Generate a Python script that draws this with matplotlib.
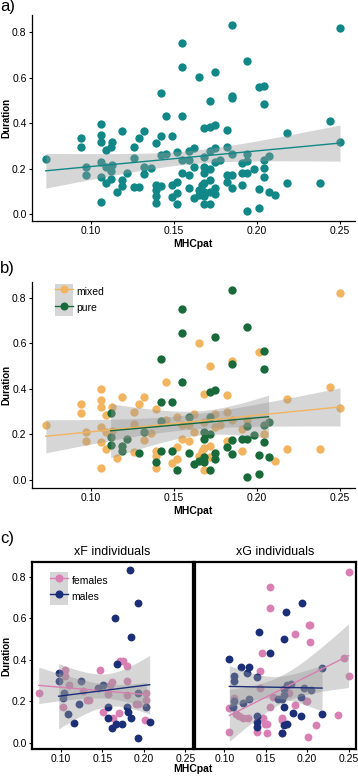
import numpy as np
import matplotlib
matplotlib.use("Agg")
import matplotlib.pyplot as plt
from matplotlib.lines import Line2D
from matplotlib.patches import Patch
from matplotlib.legend_handler import HandlerTuple

plt.rcParams["font.family"] = ["Liberation Sans", "DejaVu Sans"]

# ---------------------------------------------------------------------------
# Data
# ---------------------------------------------------------------------------
# panel b: mixed vs pure (panel a = all of them)
mixed_x = [0.073, 0.094, 0.094, 0.106, 0.106, 0.106, 0.097, 0.097, 0.106, 0.106,
           0.106, 0.109, 0.113, 0.109, 0.113, 0.109, 0.116, 0.119, 0.126, 0.126,
           0.126, 0.129, 0.132, 0.132, 0.136, 0.139, 0.139, 0.139, 0.139, 0.145,
           0.145, 0.149, 0.152, 0.152, 0.152, 0.155, 0.155, 0.159, 0.159, 0.162,
           0.162, 0.165, 0.165, 0.167, 0.168, 0.168, 0.168, 0.168, 0.172, 0.172,
           0.172, 0.175, 0.175, 0.178, 0.182, 0.182, 0.182, 0.185, 0.185, 0.191,
           0.191, 0.194, 0.201, 0.204, 0.211, 0.218, 0.218, 0.238, 0.244, 0.250,
           0.250]
mixed_y = [0.242, 0.334, 0.295, 0.397, 0.349, 0.319, 0.210, 0.173, 0.232, 0.166,
           0.053, 0.283, 0.319, 0.210, 0.217, 0.136, 0.097, 0.366, 0.297, 0.246,
           0.122, 0.334, 0.366, 0.177, 0.205, 0.312, 0.129, 0.107, 0.051, 0.432,
           0.264, 0.075, 0.144, 0.092, 0.275, 0.239, 0.180, 0.239, 0.173, 0.290,
           0.210, 0.603, 0.107, 0.129, 0.378, 0.253, 0.139, 0.045, 0.498, 0.151,
           0.100, 0.290, 0.231, 0.239, 0.371, 0.297, 0.173, 0.520, 0.265, 0.224,
           0.129, 0.265, 0.561, 0.202, 0.085, 0.356, 0.136, 0.136, 0.410, 0.820,
           0.316]
pure_x = [0.112, 0.112, 0.112, 0.119, 0.119, 0.122, 0.129, 0.132, 0.139, 0.142,
          0.142, 0.142, 0.142, 0.149, 0.149, 0.152, 0.155, 0.155, 0.155, 0.159,
          0.159, 0.162, 0.165, 0.168, 0.168, 0.168, 0.168, 0.172, 0.172, 0.172,
          0.172, 0.175, 0.175, 0.175, 0.175, 0.182, 0.185, 0.185, 0.185, 0.185,
          0.191, 0.194, 0.194, 0.194, 0.194, 0.198, 0.201, 0.201, 0.204, 0.204,
          0.204, 0.204, 0.207, 0.207]
pure_y = [0.295, 0.190, 0.154, 0.150, 0.125, 0.180, 0.120, 0.210, 0.080, 0.532,
          0.344, 0.260, 0.125, 0.344, 0.127, 0.045, 0.750, 0.645, 0.432, 0.278,
          0.117, 0.070, 0.085, 0.210, 0.180, 0.100, 0.080, 0.385, 0.278, 0.200,
          0.045, 0.627, 0.393, 0.117, 0.090, 0.144, 0.832, 0.510, 0.175, 0.114,
          0.180, 0.671, 0.235, 0.180, 0.015, 0.198, 0.110, 0.028, 0.564, 0.485,
          0.240, 0.166, 0.256, 0.100]

# panel c: xF / xG individuals by sex
xf_fem_x = [0.073, 0.105, 0.105, 0.109, 0.102, 0.147, 0.134, 0.131, 0.126, 0.159,
            0.161, 0.157, 0.171, 0.175, 0.180, 0.180, 0.180, 0.151, 0.170, 0.163,
            0.190, 0.193, 0.203, 0.203, 0.201]
xf_fem_y = [0.241, 0.350, 0.320, 0.278, 0.173, 0.350, 0.206, 0.206, 0.249, 0.278,
            0.294, 0.236, 0.395, 0.393, 0.370, 0.297, 0.232, 0.146, 0.145, 0.118,
            0.186, 0.186, 0.238, 0.206, 0.109]
xf_mal_x = [0.183, 0.193, 0.165, 0.184, 0.167, 0.097, 0.098, 0.124, 0.145, 0.151,
            0.102, 0.104, 0.122, 0.108, 0.115, 0.157, 0.157, 0.161, 0.166, 0.174,
            0.180, 0.181, 0.184, 0.193, 0.203, 0.207, 0.193]
xf_mal_y = [0.832, 0.675, 0.602, 0.510, 0.378, 0.334, 0.297, 0.297, 0.265, 0.277,
            0.214, 0.240, 0.186, 0.138, 0.096, 0.173, 0.118, 0.069, 0.090, 0.088,
            0.173, 0.150, 0.117, 0.238, 0.170, 0.100, 0.021]
xg_fem_x = [0.250, 0.155, 0.155, 0.202, 0.204, 0.185, 0.204, 0.146, 0.143, 0.244,
            0.250, 0.112, 0.106, 0.114, 0.118, 0.123, 0.128, 0.106, 0.139, 0.147,
            0.149, 0.152, 0.151, 0.143, 0.155, 0.170, 0.170, 0.170, 0.178, 0.185,
            0.198, 0.200, 0.211, 0.237, 0.201, 0.159]
xg_fem_y = [0.821, 0.752, 0.648, 0.567, 0.567, 0.522, 0.487, 0.434, 0.345, 0.410,
            0.320, 0.214, 0.166, 0.140, 0.130, 0.120, 0.120, 0.050, 0.050, 0.120,
            0.090, 0.090, 0.045, 0.262, 0.173, 0.120, 0.110, 0.045, 0.240, 0.180,
            0.200, 0.200, 0.085, 0.135, 0.028, 0.222]
xg_mal_x = [0.194, 0.175, 0.142, 0.172, 0.155, 0.106, 0.120, 0.130, 0.127, 0.139,
            0.112, 0.112, 0.218, 0.176, 0.180, 0.172, 0.196, 0.192, 0.205, 0.165,
            0.170, 0.172, 0.130, 0.122, 0.112, 0.110, 0.139, 0.139, 0.139, 0.172,
            0.176, 0.169, 0.183, 0.192, 0.218, 0.172]
xg_mal_y = [0.675, 0.628, 0.535, 0.498, 0.434, 0.402, 0.366, 0.366, 0.334, 0.318,
            0.320, 0.296, 0.358, 0.280, 0.285, 0.260, 0.265, 0.222, 0.255, 0.210,
            0.210, 0.170, 0.212, 0.190, 0.200, 0.170, 0.130, 0.100, 0.075, 0.085,
            0.090, 0.045, 0.143, 0.128, 0.137, 0.230]

x_ticks = [0.10, 0.15, 0.20, 0.25]
y_ticks = [0.0, 0.2, 0.4, 0.6, 0.8]

TEAL   = "#118787"
ORANGE = "#f2b45e"
GREEN  = "#186a3a"
PINK   = "#d97fb3"
NAVY   = "#1b2f78"
BAND   = "#999999"

XLIM = (0.0645, 0.259)


# ---------------------------------------------------------------------------
# helpers
# ---------------------------------------------------------------------------
def smooth(ax, x, y, color, t=1.98):
    """lm fit with 95% confidence band, like geom_smooth(method='lm')."""
    x = np.asarray(x)
    y = np.asarray(y)
    b, a = np.polyfit(x, y, 1)
    xs = np.linspace(x.min(), x.max(), 80)
    n = len(x)
    resid = y - (a + b * x)
    s = np.sqrt(resid @ resid / (n - 2))
    se = s * np.sqrt(1 / n + (xs - x.mean()) ** 2 / ((x - x.mean()) ** 2).sum())
    fit = a + b * xs
    ax.fill_between(xs, fit - t * se, fit + t * se, color=BAND, alpha=0.4,
                    lw=0, zorder=3)
    ax.plot(xs, fit, color=color, lw=1.0, zorder=4)


def style(ax, ylim, box=False):
    ax.set_xlim(*XLIM)
    ax.set_ylim(*ylim)
    ax.set_xticks(x_ticks)
    ax.set_xticklabels([f"{v:.2f}" for v in x_ticks])
    ax.set_yticks(y_ticks)
    ax.set_yticklabels([f"{v:.1f}" for v in y_ticks])
    ax.tick_params(labelsize=7.5, length=2.5, width=0.8, pad=1.2,
                   colors="black")
    for side in ["top", "right"]:
        ax.spines[side].set_visible(box)
    lw = 1.6 if box else 0.9
    for sp in ax.spines.values():
        sp.set_linewidth(lw)


def ylabel(ax):
    ax.set_ylabel("Duration", fontsize=7, fontweight="bold", labelpad=0.5)


def legend(ax, labels, colors, anchor):
    handles = [(Patch(facecolor="#d6d6d6", edgecolor="none"),
                Line2D([], [], color=c, lw=1.0, marker="o", ms=5.8,
                       markeredgewidth=0))
               for c in colors]
    ax.legend(handles, labels, handler_map={tuple: HandlerTuple(ndivide=1, pad=0)},
              loc="upper left", bbox_to_anchor=anchor, frameon=False,
              borderpad=0, borderaxespad=0, handlelength=1.7, handleheight=2.0,
              labelspacing=0.0, handletextpad=0.35, fontsize=7.5)


# ---------------------------------------------------------------------------
# figure
# ---------------------------------------------------------------------------
W, H = 358, 776
fig = plt.figure(figsize=(W / 100, H / 100), dpi=100)


def px_axes(l, r, t, b):
    return fig.add_axes([l / W, 1 - b / H, (r - l) / W, (b - t) / H])


MS = 36

# ---- a)
ax_a = px_axes(31.7, 355, 15, 221)
all_x = mixed_x + pure_x
all_y = mixed_y + pure_y
ax_a.scatter(all_x, all_y, s=MS, color=TEAL, lw=0, zorder=2)
smooth(ax_a, all_x, all_y, TEAL)
style(ax_a, (-0.029, 0.875))
ax_a.set_xlabel("MHCpat", fontsize=7.5, fontweight="bold", labelpad=2)
ylabel(ax_a)

# ---- b)
ax_b = px_axes(31.7, 355, 281.7, 487.7)
ax_b.scatter(mixed_x, mixed_y, s=MS, color=ORANGE, lw=0, zorder=2)
ax_b.scatter(pure_x, pure_y, s=MS, color=GREEN, lw=0, zorder=2)
smooth(ax_b, mixed_x, mixed_y, ORANGE)
smooth(ax_b, pure_x, pure_y, GREEN)
style(ax_b, (-0.034, 0.87))
ax_b.set_xlabel("MHCpat", fontsize=7.5, fontweight="bold", labelpad=2)
ylabel(ax_b)
legend(ax_b, ["mixed", "pure"], [ORANGE, GREEN], (0.072, 0.99))

# ---- c)
ax_c1 = px_axes(31.7, 192.7, 561.7, 749.3)
ax_c2 = px_axes(195, 356, 561.7, 749.3)
MS_C = 32
ax_c1.scatter(xf_fem_x, xf_fem_y, s=MS_C, color=PINK, lw=0, zorder=2)
ax_c1.scatter(xf_mal_x, xf_mal_y, s=MS_C, color=NAVY, lw=0, zorder=2)
smooth(ax_c1, xf_fem_x, xf_fem_y, PINK, t=2.06)
smooth(ax_c1, xf_mal_x, xf_mal_y, NAVY, t=2.06)
ax_c2.scatter(xg_fem_x, xg_fem_y, s=MS_C, color=PINK, lw=0, zorder=2)
ax_c2.scatter(xg_mal_x, xg_mal_y, s=MS_C, color=NAVY, lw=0, zorder=2)
smooth(ax_c2, xg_fem_x, xg_fem_y, PINK, t=2.03)
smooth(ax_c2, xg_mal_x, xg_mal_y, NAVY, t=2.03)
for ax, title in [(ax_c1, "xF individuals"), (ax_c2, "xG individuals")]:
    style(ax, (-0.032, 0.872), box=True)
    ax.set_title(title, fontsize=9, pad=5)
ax_c2.tick_params(axis="y", left=False, labelleft=False)
ylabel(ax_c1)
legend(ax_c1, ["females", "males"], [PINK, NAVY], (0.114, 0.943))
fig.text(193 / W, 1 - 769 / H, "MHCpat", fontsize=7.5, fontweight="bold",
         ha="center", va="center")

# ---- panel letters
for lab, top in [("a)", -1), ("b)", 261), ("c)", 531)]:
    fig.text(0.0, 1 - top / H, lab, fontsize=12, ha="left", va="top")

fig.savefig("out.png", dpi=100)
